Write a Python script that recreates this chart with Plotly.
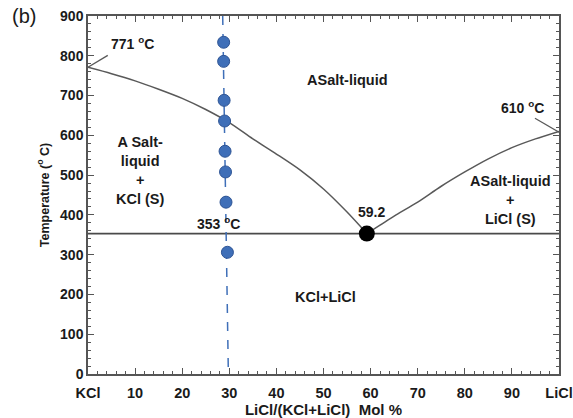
import plotly.graph_objects as go

# Liquidus (left branch, KCl side)
liq_left_x = [0, 5, 10, 15, 20, 25, 30, 35, 40, 45, 50, 55, 59.2]
liq_left_T = [771, 755, 737, 716, 693, 665, 632, 591, 553, 513, 465, 407, 353]
# Liquidus (right branch, LiCl side)
liq_right_x = [59.2, 62, 65, 70, 75, 80, 85, 90, 95, 100]
liq_right_T = [353, 374, 397, 432, 472, 508, 541, 569, 591, 610]
# Eutectic
eut_x = [59.2]
eut_T = [353]
eutectic_T = 353
# Experimental points (about 30 mol% LiCl)
pts_x = [28.8, 28.8, 28.9, 29.0, 29.1, 29.2, 29.3, 29.6]
pts_T = [834, 786, 688, 636, 560, 508, 432, 306]
# Dashed composition line
dash_x = [28.6, 29.8]
dash_T = [900, 0]

x_tickvals = [0, 10, 20, 30, 40, 50, 60, 70, 80, 90, 100]
x_ticktext = ["KCl", "10", "20", "30", "40", "50", "60", "70", "80", "90", "LiCl"]
y_tickvals = [0, 100, 200, 300, 400, 500, 600, 700, 800, 900]

FONT = "Liberation Sans, Arial"
fig = go.Figure()
line_col = "#595959"
fig.add_trace(go.Scatter(x=[0, 100], y=[eutectic_T, eutectic_T], mode="lines",
                         line=dict(color="#4a4a4a", width=1.6), hoverinfo="skip"))
fig.add_trace(go.Scatter(x=liq_left_x, y=liq_left_T, mode="lines",
                         line=dict(color=line_col, width=1.5, shape="spline", smoothing=0.8), hoverinfo="skip"))
fig.add_trace(go.Scatter(x=liq_right_x, y=liq_right_T, mode="lines",
                         line=dict(color=line_col, width=1.5, shape="spline", smoothing=0.8), hoverinfo="skip"))
fig.add_trace(go.Scatter(x=dash_x, y=dash_T, mode="lines",
                         line=dict(color="#3f6fb8", width=1.5, dash="dash"), hoverinfo="skip"))
fig.add_trace(go.Scatter(x=pts_x, y=pts_T, mode="markers",
                         marker=dict(color="#3f6fb8", size=12, line=dict(color="#2f5595", width=1))))
fig.add_trace(go.Scatter(x=eut_x, y=eut_T, mode="markers",
                         marker=dict(color="black", size=16)))

# pointer lines
fig.add_shape(type="line", x0=0, y0=771, x1=4.2, y1=801, line=dict(color=line_col, width=1.3))
fig.add_shape(type="line", x0=100, y0=608, x1=94.9, y1=643, line=dict(color=line_col, width=1.3))

def ann(x, y, text, size=14.5):
    fig.add_annotation(x=x, y=y, text="<b>" + text + "</b>", showarrow=False,
                       font=dict(family=FONT, size=size, color="#1a1a1a"),
                       align="center")

ann(9.4, 832, "771 <sup>o</sup>C", 14)
ann(55.2, 739, "ASalt-liquid")
ann(92.2, 671, "610 <sup>o</sup>C", 14)
ann(11.2, 512, "A Salt-<br>liquid<br>+<br>KCl (S)")
ann(27.8, 379, "353 <sup>o</sup>C", 14)
ann(60.1, 407, "59.2", 14)
ann(89.6, 437, "ASalt-liquid<br>+<br>LiCl (S)")
ann(50.5, 194, "KCl+LiCl")

fig.add_annotation(xref="paper", yref="paper", x=-0.135, y=1.0, xanchor="center", yanchor="middle",
                   text="(b)", showarrow=False,
                   font=dict(family=FONT, size=20, color="#1a1a1a"))

axis_common = dict(showline=True, linecolor="#555", linewidth=1.5, mirror="ticks",
                   ticks="inside", ticklen=6, tickwidth=1.3, tickcolor="#555",
                   showgrid=False, zeroline=False, automargin=False)

fig.update_xaxes(range=[0, 100], tickvals=x_tickvals, ticktext=x_ticktext,
                 tickfont=dict(family=FONT, size=14.5, color="#1a1a1a", weight="bold"),
                 ticklabelstandoff=5,
                 minor=dict(dtick=2, ticks="inside", ticklen=3, tickcolor="#555", tickwidth=1),
                 title=dict(text="<b>LiCl/(KCl+LiCl)  Mol %</b>", standoff=3,
                            font=dict(family=FONT, size=15, color="#1a1a1a")),
                 **axis_common)
fig.update_yaxes(range=[0, 900], tickvals=y_tickvals,
                 tickfont=dict(family=FONT, size=14, color="#1a1a1a", weight="bold"),
                 minor=dict(dtick=20, ticks="inside", ticklen=3, tickcolor="#555", tickwidth=1),
                 title=dict(text="<b>Temperature (<sup>o</sup> C)</b>", standoff=8,
                            font=dict(family=FONT, size=12.5, color="#1a1a1a")),
                 **axis_common)

fig.update_layout(width=573, height=418, showlegend=False,
                  margin=dict(l=88, r=14, t=16, b=44),
                  plot_bgcolor="white", paper_bgcolor="white")

fig.write_html("out.html")
